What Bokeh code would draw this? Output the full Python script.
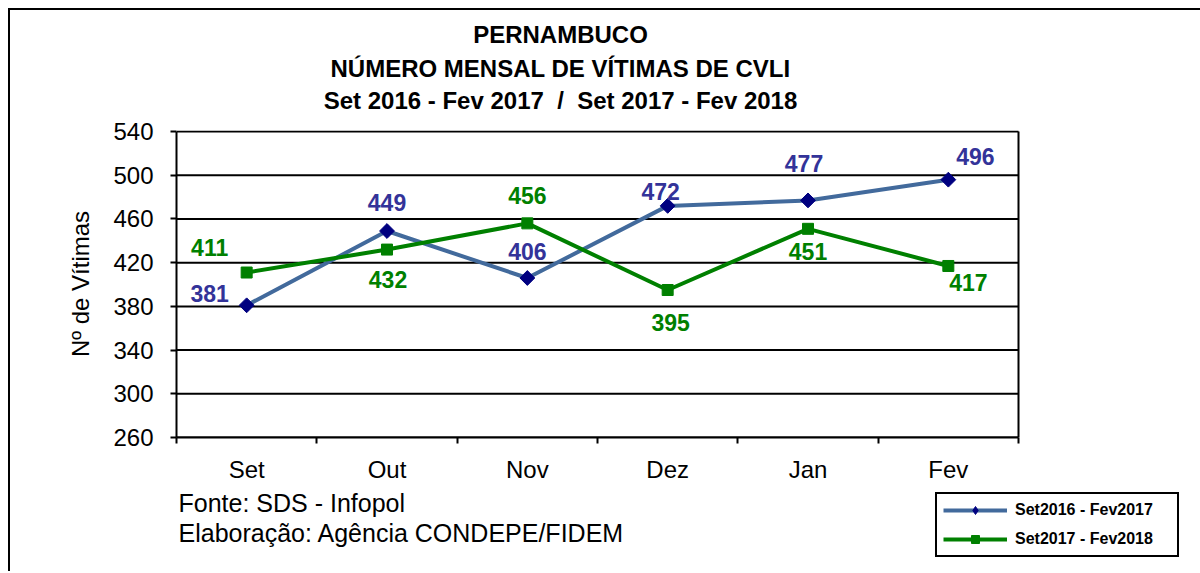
import numpy as np
from bokeh.plotting import figure
from bokeh.layouts import column
from bokeh.models import Range1d, FixedTicker, Legend, LegendItem, Label
from bokeh.core.properties import value
from bokeh.embed import file_html
from bokeh.resources import INLINE

# ---- data ----
months = ["Set", "Out", "Nov", "Dez", "Jan", "Fev"]
serie_2016_2017 = [381, 449, 406, 472, 477, 496]
serie_2017_2018 = [411, 432, 456, 395, 451, 417]
label_2016_2017 = "Set2016 - Fev2017"
label_2017_2018 = "Set2017 - Fev2018"
y_ticks = [260, 300, 340, 380, 420, 460, 500, 540]
title_lines = ["PERNAMBUCO",
               "NÚMERO MENSAL DE VÍTIMAS DE CVLI",
               "Set 2016 - Fev 2017\u00a0 /\u00a0 Set 2017 - Fev 2018"]
footer_lines = ["Fonte: SDS - Infopol", "Elaboração: Agência CONDEPE/FIDEM"]

# ---- placement / style (screen pixels) ----
blue_dx = [-37, 0, 0, -7, -4, 27]
blue_dy = [-12, -29, -26, -14, -37, -23]
green_dx = [-37, 1, 0, 3, 0, 20]
green_dy = [-25, 30, -28, 32, 23, 17]
title_y = [69, 35, 3]           # from bottom of the title strip
footer_y = [69, 39]             # from bottom of the footer strip
W = 1190                        # canvas width of every strip
LEFT = 166                      # left border (axis area)
PLOT_W = 842                    # width of the plotting area in pixels

FONT_NAME = "Liberation Sans"
FONT = value(FONT_NAME)
BLUE_LINE = "#426A9C"
BLUE_MARK = "#000080"
BLUE_TEXT = "#333399"
GREEN = "#008000"

xs = [i + 0.5 for i in range(len(months))]
n = len(months)
x_end = n * (W - LEFT) / PLOT_W

# ---------------- title strip ----------------
t = figure(width=W, height=106, output_backend="svg", toolbar_location=None,
           x_axis_type=None, y_axis_type=None, min_border=0,
           x_range=Range1d(0, 1), y_range=Range1d(0, 1),
           outline_line_color=None, background_fill_color="white", border_fill_color="white")
t.grid.visible = False
for line, y in zip(title_lines, title_y):
    t.add_layout(Label(x=384, y=y, x_units="screen", y_units="screen", text=line,
                       text_align="center", text_baseline="bottom", text_font=FONT_NAME,
                       text_font_size="24px", text_font_style="bold", text_color="black"))

# ---------------- chart ----------------
p = figure(width=W, height=369, output_backend="svg", toolbar_location=None,
           x_range=Range1d(0, x_end), y_range=Range1d(y_ticks[0], y_ticks[-1] + 1),
           min_border_left=LEFT, min_border_right=0, min_border_top=14, min_border_bottom=48,
           outline_line_color=None,
           background_fill_color="white", border_fill_color="white")
p.grid.visible = False

# horizontal grid lines and right border of the plotting area
p.segment(x0=[0] * len(y_ticks), x1=[n] * len(y_ticks), y0=y_ticks, y1=y_ticks,
          line_color="black", line_width=2)
p.segment(x0=[n], x1=[n], y0=[y_ticks[0]], y1=[y_ticks[-1]],
          line_color="black", line_width=2)

# x axis: labels at category centres, tick marks at category boundaries
p.xaxis.bounds = (0, n)
p.xaxis.ticker = FixedTicker(ticks=xs, minor_ticks=list(range(n + 1)))
p.xaxis.major_label_overrides = {x: m for x, m in zip(xs, months)}
p.xaxis.major_tick_out = 0
p.xaxis.major_tick_in = 0
p.xaxis.minor_tick_out = 6
p.xaxis.minor_tick_in = 0
p.xaxis.minor_tick_line_color = "black"
p.xaxis.minor_tick_line_width = 2
p.xaxis.major_label_standoff = 12

p.yaxis.bounds = (y_ticks[0], y_ticks[-1])
p.yaxis.ticker = FixedTicker(ticks=y_ticks)
p.yaxis.minor_tick_line_color = None
p.yaxis.major_tick_out = 6
p.yaxis.major_tick_in = 0
p.yaxis.major_tick_line_width = 2
p.yaxis.major_tick_line_color = "black"
p.yaxis.major_label_standoff = 17
p.yaxis.axis_label = "Nº de Vítimas"
p.yaxis.axis_label_standoff = 16
p.yaxis.axis_label_text_font_style = "normal"

for ax in (p.xaxis, p.yaxis):
    ax.axis_line_color = "black"
    ax.axis_line_width = 2
    ax.major_label_text_font = FONT_NAME
    ax.major_label_text_font_size = "24px"
    ax.major_label_text_color = "black"
    ax.axis_label_text_font = FONT_NAME
    ax.axis_label_text_font_size = "24px"
    ax.axis_label_text_color = "black"

# series
lb = p.line(xs, serie_2016_2017, line_color=BLUE_LINE, line_width=4)
sb = p.scatter(xs, serie_2016_2017, marker="square", angle=np.pi / 4, size=10.5,
               fill_color=BLUE_MARK, line_color=BLUE_MARK)
lg = p.line(xs, serie_2017_2018, line_color=GREEN, line_width=4)
sg = p.scatter(xs, serie_2017_2018, marker="square", size=11,
               fill_color=GREEN, line_color=GREEN)

p.text(xs, serie_2016_2017, text=[str(v) for v in serie_2016_2017],
       x_offset=blue_dx, y_offset=blue_dy, text_align="center", text_baseline="middle",
       text_font=FONT, text_font_size="23px", text_font_style="bold", text_color=BLUE_TEXT)
p.text(xs, serie_2017_2018, text=[str(v) for v in serie_2017_2018],
       x_offset=green_dx, y_offset=green_dy, text_align="center", text_baseline="middle",
       text_font=FONT, text_font_size="23px", text_font_style="bold", text_color=GREEN)

# ---------------- footer strip: source notes + legend ----------------
q = figure(width=W, height=86, output_backend="svg", toolbar_location=None,
           x_axis_type=None, y_axis_type=None, min_border=0,
           x_range=Range1d(0, 1), y_range=Range1d(0, 1),
           outline_line_color=None, background_fill_color="white", border_fill_color="white")
q.grid.visible = False

for line, y in zip(footer_lines, footer_y):
    q.add_layout(Label(x=2, y=y, x_units="screen", y_units="screen", text=line,
                       text_align="left", text_baseline="middle", text_font=FONT_NAME,
                       text_font_size="25px", text_color="black"))

# legend entries: same series and styling (outside this strip's visible range)
qb_l = q.line(xs, serie_2016_2017, line_color=BLUE_LINE, line_width=4)
qb_s = q.scatter(xs, serie_2016_2017, marker="diamond", size=14,
                 fill_color=BLUE_MARK, line_color=BLUE_MARK)
qg_l = q.line(xs, serie_2017_2018, line_color=GREEN, line_width=4)
qg_s = q.scatter(xs, serie_2017_2018, marker="square", size=11,
                 fill_color=GREEN, line_color=GREEN)

legend = Legend(items=[LegendItem(label=label_2016_2017, renderers=[qb_l, qb_s]),
                       LegendItem(label=label_2017_2018, renderers=[qg_l, qg_s])],
                location=(759, 14), orientation="vertical",
                padding=6, spacing=9, glyph_width=64, glyph_height=20,
                label_standoff=8, label_width=156, label_height=20,
                label_text_font=FONT_NAME, label_text_font_size="16px",
                label_text_font_style="bold", label_text_color="black",
                border_line_color="black", border_line_width=2, border_line_alpha=1,
                background_fill_color="white", background_fill_alpha=1, margin=0)
q.add_layout(legend)

layout = column(t, p, q, spacing=0,
                styles={"margin-left": "8px", "margin-top": "8px",
                        "border-left": "2px solid black", "border-top": "2px solid black"})

open("out.html", "w").write(file_html(layout, INLINE))
